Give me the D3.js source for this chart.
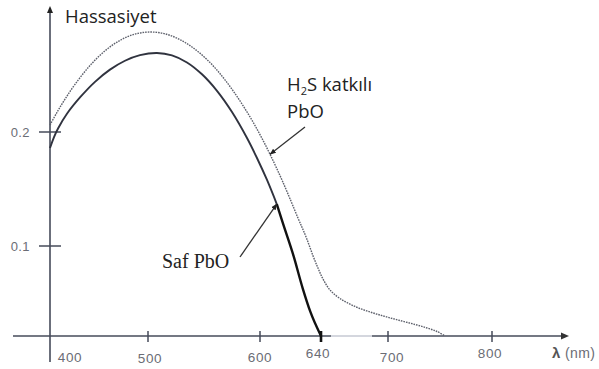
<!DOCTYPE html>
<html>
<head>
<meta charset="utf-8">
<script src="https://cdn.jsdelivr.net/npm/d3@7"></script>
<style>
  html, body { margin: 0; padding: 0; background: #fff; }
  svg { display: block; }
</style>
</head>
<body>
<svg id="chart" width="599" height="369"></svg>
<script>
// Axis ticks
const wavelengthTicks = [400, 500, 600, 640, 700, 800];
const sensitivityTicks = [0.1, 0.2];

// Pure PbO spectral sensitivity
const safWavelength = [400, 404.1, 408.2, 417.3, 430.6, 445.9, 461.2, 476.5, 491.8, 508, 521.4, 534.8, 548.2, 561.6, 575, 588.4, 597.3, 604.6, 611, 615, 622, 628, 633, 640];
const safSensitivity = [0.186, 0.1956, 0.2031, 0.216, 0.2303, 0.244, 0.2547, 0.2625, 0.2674, 0.2693, 0.2672, 0.261, 0.2506, 0.2361, 0.2175, 0.1947, 0.1772, 0.1579, 0.1368, 0.12, 0.089, 0.053, 0.027, 0];

// H2S-doped PbO spectral sensitivity
const h2sWavelength = [400, 407.1, 415.3, 425.5, 440.8, 456.1, 471.4, 486.7, 501.8, 515.2, 528.6, 542, 555.4, 566.1, 575, 583.9, 592.9, 600.7, 606.6, 615.1, 624.9, 630.2, 634.8, 638, 641.8, 648.1, 657, 670.4, 683.9, 697.3, 711.5, 726, 737.5, 747.1, 754.8];
const h2sSensitivity = [0.2061, 0.2172, 0.2288, 0.2418, 0.2583, 0.2712, 0.2804, 0.2859, 0.2877, 0.2861, 0.281, 0.2726, 0.2609, 0.249, 0.2375, 0.2246, 0.2102, 0.1959, 0.1804, 0.1558, 0.1246, 0.1079, 0.0889, 0.0756, 0.0633, 0.0511, 0.0417, 0.0328, 0.0267, 0.0217, 0.0172, 0.0128, 0.0089, 0.005, 0];

const svg = d3.select("#chart");
const axisColor = "#464b5a";
const labelColor = "#6b6d75";

// Hand-drawn axes: tick spacing is uneven, so both scales are piecewise linear
const x = d3.scaleLinear()
  .domain(wavelengthTicks)
  .range([50, 148, 260, 321, 388, 492]);
const y = d3.scaleLinear()
  .domain([0, 0.1, 0.2])
  .range([336, 246, 132]);

const y0 = y(0), x0 = x(400);

// Arrowhead for annotation leaders
const defs = svg.append("defs");
defs.append("marker")
  .attr("id", "tip")
  .attr("viewBox", "0 0 10 10")
  .attr("refX", 9).attr("refY", 5)
  .attr("markerWidth", 5).attr("markerHeight", 5)
  .attr("orient", "auto")
  .append("path").attr("d", "M0,1 L10,5 L0,9 Z").attr("fill", "#222");

// x axis line (with a faint stretch after 640)
const xa = svg.append("g");
xa.append("line").attr("x1", 13).attr("x2", 331).attr("y1", y0).attr("y2", y0)
  .attr("stroke", axisColor).attr("stroke-width", 1.6);
xa.append("line").attr("x1", 331).attr("x2", 372).attr("y1", y0).attr("y2", y0)
  .attr("stroke", "#a9aebd").attr("stroke-width", 1);
xa.append("line").attr("x1", 372).attr("x2", 562).attr("y1", y0).attr("y2", y0)
  .attr("stroke", axisColor).attr("stroke-width", 1.6);
xa.append("path")
  .attr("d", `M569,${y0} L561,${y0 - 3.5} L561,${y0 + 3.5} Z`)
  .attr("fill", "#333");

// y axis line
svg.append("line").attr("x1", x0).attr("x2", x0).attr("y1", 12).attr("y2", 362)
  .attr("stroke", axisColor).attr("stroke-width", 1.6);
svg.append("path")
  .attr("d", `M${x0},6 L${x0 - 3},13 L${x0 + 3},13 Z`)
  .attr("fill", "#222");

// x ticks (crossing the axis)
const xTickOffsets = {400: [20, 362], 500: [2, 363], 600: [0, 362], 640: [-3, 358], 700: [4, 362], 800: [-2, 358]};
wavelengthTicks.filter(v => v !== 400).forEach(v => {
  svg.append("line")
    .attr("x1", x(v)).attr("x2", x(v))
    .attr("y1", y0 - 5).attr("y2", y0 + 6)
    .attr("stroke", v === 640 ? "#111" : axisColor)
    .attr("stroke-width", v === 640 ? 2.6 : 1.5);
});
wavelengthTicks.forEach(v => {
  svg.append("text")
    .attr("x", x(v) + xTickOffsets[v][0])
    .attr("y", xTickOffsets[v][1])
    .attr("text-anchor", "middle")
    .attr("font-family", "Liberation Sans, Arial, sans-serif")
    .attr("font-size", 13.5)
    .attr("letter-spacing", 0.6)
    .attr("fill", labelColor)
    .text(v);
});
svg.append("text")
  .attr("x", 552).attr("y", 358)
  .attr("font-family", "Liberation Sans, Arial, sans-serif")
  .attr("font-size", 14)
  .attr("letter-spacing", 0.4)
  .attr("fill", labelColor)
  .html('<tspan font-weight="bold" font-size="15" fill="#555">λ</tspan> (nm)');

// y ticks
sensitivityTicks.forEach(v => {
  svg.append("line")
    .attr("x1", x0 - 11).attr("x2", x0 + 11)
    .attr("y1", y(v)).attr("y2", y(v))
    .attr("stroke", axisColor).attr("stroke-width", 1.5);
  svg.append("text")
    .attr("x", 30).attr("y", y(v) + 5)
    .attr("text-anchor", "end")
    .attr("font-family", "Liberation Sans, Arial, sans-serif")
    .attr("font-size", 13)
    .attr("letter-spacing", 0.4)
    .attr("fill", labelColor)
    .text(v.toFixed(1));
});

const smooth = d3.line()
  .x(d => x(d[0]))
  .y(d => y(d[1]))
  .curve(d3.curveCatmullRom.alpha(0.5));
const steep = d3.line()
  .x(d => x(d[0]))
  .y(d => y(d[1]))
  .curve(d3.curveMonotoneX);

const h2s = h2sWavelength.map((w, i) => [w, h2sSensitivity[i]]);
const saf = safWavelength.map((w, i) => [w, safSensitivity[i]]);
const kink = 611;

// H2S-doped curve (dotted)
svg.append("path")
  .datum(h2s)
  .attr("d", smooth)
  .attr("fill", "none")
  .attr("stroke", "#5d606b")
  .attr("stroke-width", 1.4)
  .attr("stroke-dasharray", "1.6 1");

// Pure PbO curve: rounded top and steep fall-off after the kink
svg.append("path")
  .datum(saf.filter(d => d[0] <= kink))
  .attr("d", smooth)
  .attr("fill", "none")
  .attr("stroke", "#30333f")
  .attr("stroke-width", 1.9);
svg.append("path")
  .datum(saf.filter(d => d[0] >= kink))
  .attr("d", steep)
  .attr("fill", "none")
  .attr("stroke", "#111")
  .attr("stroke-width", 2.4);

// Labels
svg.append("text")
  .attr("x", 65).attr("y", 23)
  .attr("font-family", "Open Sans, sans-serif")
  .attr("font-size", 18.5)
  .attr("fill", "#222")
  .text("Hassasiyet");

const h2sLabel = svg.append("text")
  .attr("x", 287).attr("y", 91)
  .attr("font-family", "Open Sans, sans-serif")
  .attr("font-size", 18.5)
  .attr("fill", "#222");
h2sLabel.append("tspan").text("H");
h2sLabel.append("tspan").attr("dy", 4).attr("font-size", 11).text("2");
h2sLabel.append("tspan").attr("dy", -4).text("S katkılı");
svg.append("text")
  .attr("x", 287).attr("y", 118)
  .attr("font-family", "Open Sans, sans-serif")
  .attr("font-size", 18.5)
  .attr("fill", "#222")
  .text("PbO");

svg.append("text")
  .attr("x", 162).attr("y", 268)
  .attr("font-family", "Liberation Serif, Times New Roman, serif")
  .attr("font-size", 20)
  .attr("fill", "#222")
  .text("Saf PbO");

// Leader lines to the curves
const h2sTip = h2s[h2sWavelength.indexOf(606.6)];
svg.append("line")
  .attr("x1", 305).attr("y1", 127)
  .attr("x2", x(h2sTip[0])).attr("y2", y(h2sTip[1]))
  .attr("stroke", "#333").attr("stroke-width", 1.3)
  .attr("marker-end", "url(#tip)");

const safTip = saf[safWavelength.indexOf(kink)];
svg.append("line")
  .attr("x1", 240).attr("y1", 257)
  .attr("x2", x(safTip[0])).attr("y2", y(safTip[1]))
  .attr("stroke", "#333").attr("stroke-width", 1.3)
  .attr("marker-end", "url(#tip)");
</script>
</body>
</html>
